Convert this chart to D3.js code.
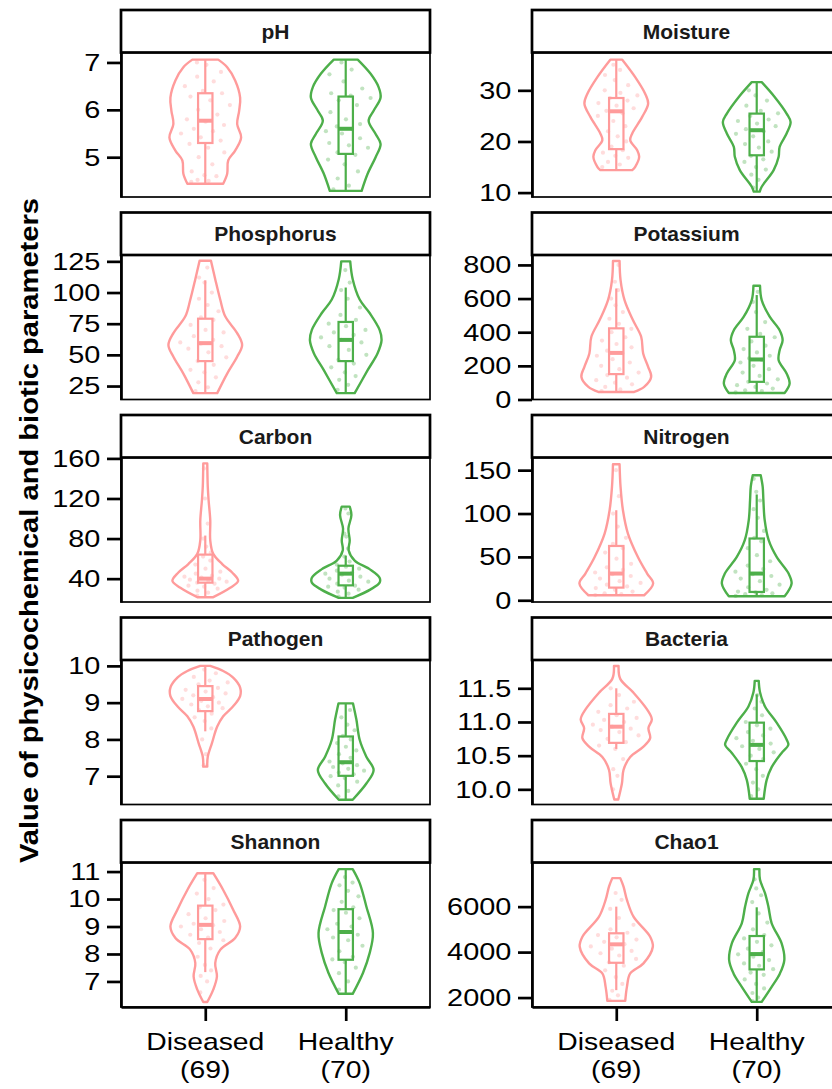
<!DOCTYPE html>
<html>
<head>
<meta charset="utf-8">
<script src="https://cdn.jsdelivr.net/npm/d3@7"></script>
<style>
body { margin: 0; background: #fff; }
text { font-family: "Liberation Sans", Arial, Helvetica, sans-serif; }
</style>
</head>
<body>
<svg width="832" height="1089"></svg>
<script>
var groups = ["Diseased", "Healthy"];
var groupN = [69, 70];
var colors = ["#FF9B9B", "#4DAF4A"];
var params = ["pH", "Moisture", "Phosphorus", "Potassium", "Carbon", "Nitrogen", "Pathogen", "Bacteria", "Shannon", "Chao1"];

// y range shown in each panel
var yDomains = [[4.16, 7.21], [9.14, 37.4], [14.2, 130.1], [0, 859], [16.7, 160.9],
                [-2, 164.6], [6.23, 10.16], [9.775, 11.92], [6.07, 11.33], [1585, 7941]];
var yTicks = [[5, 6, 7], [10, 20, 30], [25, 50, 75, 100, 125], [0, 200, 400, 600, 800], [40, 80, 120, 160],
              [0, 50, 100, 150], [7, 8, 9, 10], [10, 10.5, 11, 11.5], [7, 8, 9, 10, 11], [2000, 4000, 6000]];

var violinD = [
  [[7.06,13],[6.9,22],[6.62,30],[6.26,35],[5.98,34],[5.70,32],[5.42,36],[5.14,30],[4.93,23],[4.65,22],[4.44,18]],
  [[36.0,6],[32.6,19],[29.35,29],[27.4,32],[24.8,26],[21.56,16],[20.25,14],[18.3,21],[17.0,23],[15.05,19],[14.4,16]],
  [[125.5,5.7],[110.7,10],[94.4,15],[80.9,20],[67.5,32],[58,37],[48.5,32],[35,22],[19.3,12]],
  [[823,3.3],[710,4.3],[591,8.3],[472,16.7],[373,25],[274,27],[194,32],[134,35],[75,28],[45,18]],
  [[155,2],[132,2.5],[118.7,3.3],[98.4,5],[78.2,5],[64.7,8],[54.6,17],[46.1,27],[37.7,33],[30.9,25],[21.5,8]],
  [[156.9,3.3],[130.7,4.3],[103.8,6.7],[76.9,11.7],[49.9,21.7],[30.8,31],[19.3,37],[5.8,28]],
  [[10.0,5],[9.86,18],[9.68,28],[9.41,35],[9.18,35],[8.9,28],[8.63,18],[8.35,12],[7.9,6.7],[7.53,2.5],[7.26,2]],
  [[11.83,2.3],[11.64,4],[11.44,17],[11.19,30.7],[11.04,35.7],[10.91,32.3],[10.76,34],[10.63,27],[10.48,14],[10.29,7.3],[10.09,5.7],[9.85,2]],
  [[10.94,8],[10.33,18],[9.61,28],[9.0,35],[8.58,30],[8.15,15],[7.67,10],[7.18,11.7],[6.7,8],[6.25,2]],
  [[7253,4],[6882,7.3],[6296,10.7],[5559,17.3],[4676,34],[4235,36.7],[3503,27.3],[3062,14],[2471,10.7],[1853,9]]
];
var violinH = [
  [[7.06,12],[6.76,25],[6.48,33],[6.26,35],[5.98,28],[5.77,23],[5.49,30],[5.28,35],[5.0,30],[4.65,22],[4.29,16]],
  [[31.6,5],[28.7,18],[25.45,30],[23.8,34],[21.56,30],[18.95,23],[17.0,22],[14.4,17],[11.15,5],[10.2,3]],
  [[125,4.5],[110.7,7],[94.4,14],[83.6,24],[70.1,34],[62,36],[51.3,32],[37.7,22],[19.3,9]],
  [[676,3.3],[591,5],[492,13],[412,23],[353,26],[293,23],[234,22],[155,30],[95,33],[39,28]],
  [[111.9,4],[103.5,5.7],[90,2.7],[78.2,4],[68.1,3],[58,9],[49.5,24],[41,34],[36,34],[29.3,25],[20.8,7]],
  [[144.2,4],[130.7,6],[115.3,6.7],[92.3,8],[69.2,12],[49.9,20],[30.8,32],[19.3,35],[4.6,28]],
  [[8.98,7.3],[8.54,10.7],[7.99,14],[7.53,20.7],[7.17,28],[6.8,20.7],[6.36,7]],
  [[11.61,2],[11.44,3.3],[11.23,8.3],[10.99,20],[10.74,30],[10.66,31.7],[10.54,25],[10.33,15],[10.14,10],[9.86,7]],
  [[11.09,7],[10.58,14],[9.73,20.7],[8.76,27.3],[8.03,24],[7.31,17.3],[6.55,7]],
  [[7650,2.7],[7178,3.3],[6591,8.3],[6000,11.7],[5266,15],[4382,25],[3650,27.7],[3062,23.3],[2471,15],[1810,5]]
];

// boxplot: [whisker low, q1, median, q3, whisker high]
var boxD = [[4.45,5.30,5.77,6.35,7.06],[14.4,18.5,25.9,28.5,36.0],[19.3,45,59.4,79,109.8],[45,151,277,423,660],
            [21.5,36,40,64,83],[5.8,14.6,30.8,62.6,103.8],[8.22,8.77,9.10,9.45,10.0],[10.60,10.69,10.93,11.12,11.50],
            [7.34,8.54,9.06,9.76,10.94],[2326,3530,4341,4827,6000]];
var boxH = [[4.29,5.07,5.60,6.28,7.06],[10.2,17.3,22.2,25.45,31.6],[19.3,45,62,76.4,104],[39,105,238,373,621],
            [20.8,33.3,45,52.9,63],[4.6,9.6,30.8,71.2,122],[6.36,7.01,7.38,8.08,8.98],[9.86,10.42,10.66,10.99,11.41],
            [6.55,7.79,8.80,9.63,11.09],[1810,3238,3913,4707,5971]];

// samples (approximate)
var pointsD = [
  [4.48,4.5,4.52,4.6,4.62,4.7,4.85,5.0,5.1,5.2,5.28,5.35,5.42,5.5,5.55,5.6,5.68,5.75,5.8,5.9,6.0,6.1,6.2,6.28,6.35,6.4,6.5,6.6,6.7,6.8,6.95,7.0],
  [15,15.5,16,16.8,17.2,17.8,18.3,19,20,21,22,23,24,25,25.5,26,26.5,27,27.5,28,28.5,29,29.5,30,31,32,33,34,35],
  [21,24,28,32,36,38,42,45,48,52,55,57,59,60,62,65,68,70,74,78,80,85,90,95,100,108,112,120],
  [50,60,75,90,100,115,130,145,160,180,200,220,240,260,275,290,310,330,350,370,400,420,450,480,520,560,600,650,700,800],
  [23,26,28,30,32,33,35,36,37,38,39,40,41,42,43,45,47,50,54,58,62,66,72,80,95,120,150],
  [6,7,8,10,12,14,16,18,20,22,25,28,30,32,35,38,42,48,55,60,65,72,85,100,120,150],
  [7.3,7.6,8.0,8.3,8.5,8.6,8.7,8.8,8.85,8.9,8.95,9.0,9.05,9.1,9.15,9.2,9.25,9.3,9.35,9.4,9.5,9.55,9.6,9.7,9.8,9.9],
  [10.0,10.2,10.3,10.45,10.6,10.65,10.7,10.75,10.8,10.85,10.88,10.9,10.93,10.96,11.0,11.03,11.06,11.1,11.15,11.2,11.25,11.3,11.4,11.5],
  [6.6,7.0,7.2,7.4,7.6,7.9,8.2,8.4,8.5,8.6,8.7,8.8,8.9,9.0,9.05,9.1,9.2,9.3,9.45,9.6,9.7,9.8,10.0,10.2,10.4,10.7],
  [1900,2100,2300,2600,2900,3200,3400,3550,3700,3850,3950,4050,4150,4250,4350,4450,4550,4650,4750,4850,5000,5200,5500,5900,6300,6600]
];
var pointsH = [
  [4.32,4.4,4.55,4.7,4.85,4.95,5.05,5.1,5.2,5.25,5.3,5.4,5.5,5.55,5.6,5.65,5.7,5.8,5.95,6.1,6.2,6.25,6.3,6.35,6.45,6.6,6.75,6.85,7.0],
  [11,12.5,13.5,14.5,15,16,16.5,17.2,18,18.8,19.5,20,21,21.5,22,22.4,23,23.5,24,24.3,25,25.5,26,27,28,29,30],
  [22,26,30,33,36,40,43,46,50,54,57,60,62,64,66,68,70,73,75,78,82,88,95,102,108,118],
  [42,50,55,65,75,85,95,105,120,140,160,180,200,220,235,245,260,280,300,320,345,370,390,420,460,520,580,640],
  [22,25,27,29,31,32,33,35,37,38,40,42,44,45,46,48,50,52,54,57,62,70,82,85,105,110],
  [5,6,7,8,9,10,12,15,18,22,25,28,30,33,36,40,45,52,60,68,72,80,95,105,115,125,140],
  [6.45,6.6,6.75,6.85,6.95,7.0,7.05,7.1,7.15,7.2,7.25,7.3,7.35,7.4,7.5,7.6,7.7,7.8,7.9,8.0,8.1,8.25,8.4,8.6,8.8],
  [9.9,10.0,10.1,10.2,10.3,10.38,10.45,10.5,10.55,10.6,10.64,10.68,10.72,10.76,10.8,10.85,10.9,10.95,11.0,11.1,11.2,11.3,11.4],
  [6.7,7.0,7.3,7.5,7.7,7.8,7.9,8.1,8.3,8.5,8.6,8.7,8.8,8.9,9.0,9.1,9.3,9.5,9.6,9.7,9.9,10.1,10.3,10.5,10.6,10.8],
  [1850,2000,2200,2400,2600,2800,3000,3100,3250,3400,3500,3650,3800,3900,4000,4150,4300,4450,4600,4750,5000,5300,5700,6200,6500,6800,7200]
];

var svg = d3.select("svg");
var colX = [121, 532];
var panelW = 309, stripH = 42.5, panelH = 144.5, rowStep = 202.5, top0 = 10;
var thick = 2.7;

var x = d3.scalePoint().domain(groups).range([0, panelW]).padding(0.6);
var wScale = d3.scaleLinear().domain([0, 141]).range([0, x.step()]);
var boxHalf = 7.2;
var violins = [violinD, violinH];
var boxes = [boxD, boxH];
var points = [pointsD, pointsH];

params.forEach(function(p, i) {
  var col = i % 2, row = Math.floor(i / 2);
  var gx = colX[col], gy = top0 + row * rowStep;
  var g = svg.append("g").attr("transform", "translate(" + gx + "," + (gy + stripH) + ")");
  var y = d3.scaleLinear().domain(yDomains[i]).range([panelH, 0]);

  g.append("rect")
    .attr("width", panelW).attr("height", panelH)
    .attr("fill", "none").attr("stroke", "#000").attr("stroke-width", 1.7);

  groups.forEach(function(grp, k) {
    var cx = x(grp);
    var prof = violins[k][i];
    var b = boxes[k][i];
    var col = colors[k];

    var area = d3.area()
      .y(function(d) { return y(d[0]); })
      .x0(function(d) { return cx - wScale(d[1]); })
      .x1(function(d) { return cx + wScale(d[1]); })
      .curve(d3.curveCatmullRom);
    g.append("path").datum(prof).attr("d", area)
      .attr("fill", "none").attr("stroke", col).attr("stroke-width", 2.4)
      .attr("stroke-linejoin", "round");

    // whisker + box
    g.append("line").attr("x1", cx).attr("x2", cx)
      .attr("y1", y(b[0])).attr("y2", y(b[4]))
      .attr("stroke", col).attr("stroke-width", 2.2);
    g.append("rect").attr("x", cx - boxHalf).attr("width", boxHalf * 2)
      .attr("y", y(b[3])).attr("height", y(b[1]) - y(b[3]))
      .attr("fill", "#fff").attr("stroke", col).attr("stroke-width", 2.2);
    g.append("line").attr("x1", cx - boxHalf).attr("x2", cx + boxHalf)
      .attr("y1", y(b[2])).attr("y2", y(b[2]))
      .attr("stroke", col).attr("stroke-width", 4);

    // jittered samples inside the violin
    var wAt = d3.scaleLinear().domain(prof.map(function(d) { return d[0]; }))
      .range(prof.map(function(d) { return d[1]; })).clamp(true);
    g.append("g").selectAll("circle").data(points[k][i]).enter().append("circle")
      .attr("cx", function(d, j) { return cx + (((j * 0.618034) % 1) * 2 - 1) * wScale(wAt(d)) * 0.75; })
      .attr("cy", function(d) { return y(d); })
      .attr("r", 2.1)
      .attr("fill", col).attr("fill-opacity", 0.35);
  });

  var fmt = p === "Bacteria" ? d3.format(".1f") : d3.format("d");
  var ax = g.append("g")
    .call(d3.axisLeft(y).tickValues(yTicks[i]).tickSize(14).tickSizeOuter(0).tickPadding(3.5).tickFormat(fmt))
    .attr("font-family", null).attr("font-size", 24.5);
  ax.select(".domain").attr("stroke-width", thick);
  ax.selectAll(".tick line").attr("stroke-width", thick);
  ax.selectAll(".tick text").attr("fill", "#000").attr("transform", "scale(1.18,1)");

  if (row === 4) {
    var bx = g.append("g").attr("transform", "translate(0," + panelH + ")")
      .call(d3.axisBottom(x).tickSize(14).tickSizeOuter(0).tickFormat(""));
    bx.select(".domain").attr("stroke-width", thick);
    bx.selectAll(".tick line").attr("stroke-width", thick);
    groups.forEach(function(grp, k) {
      var lab = g.append("g")
        .attr("transform", "translate(" + x(grp) + "," + (panelH + 43) + ") scale(1.18,1)");
      lab.append("text").attr("text-anchor", "middle").attr("font-size", 24).text(grp);
      lab.append("text").attr("text-anchor", "middle").attr("font-size", 24).attr("y", 28)
        .text("(" + groupN[k] + ")");
    });
  }

  // strip
  svg.append("rect").attr("x", gx).attr("y", gy).attr("width", panelW).attr("height", stripH)
    .attr("fill", "#fff").attr("stroke", "#000").attr("stroke-width", thick);
  svg.append("text").attr("x", gx + panelW / 2).attr("y", gy + stripH / 2 + 7.4)
    .attr("text-anchor", "middle").attr("font-size", 21).attr("font-weight", "bold")
    .attr("fill", "#1a1a1a").text(p);
});

svg.append("text")
  .attr("transform", "translate(38,530.5) rotate(-90)")
  .attr("text-anchor", "middle").attr("font-size", 26.5).attr("font-weight", "bold")
  .attr("textLength", 665).attr("lengthAdjust", "spacingAndGlyphs")
  .text("Value of physicochemical and biotic parameters");
</script>
</body>
</html>
